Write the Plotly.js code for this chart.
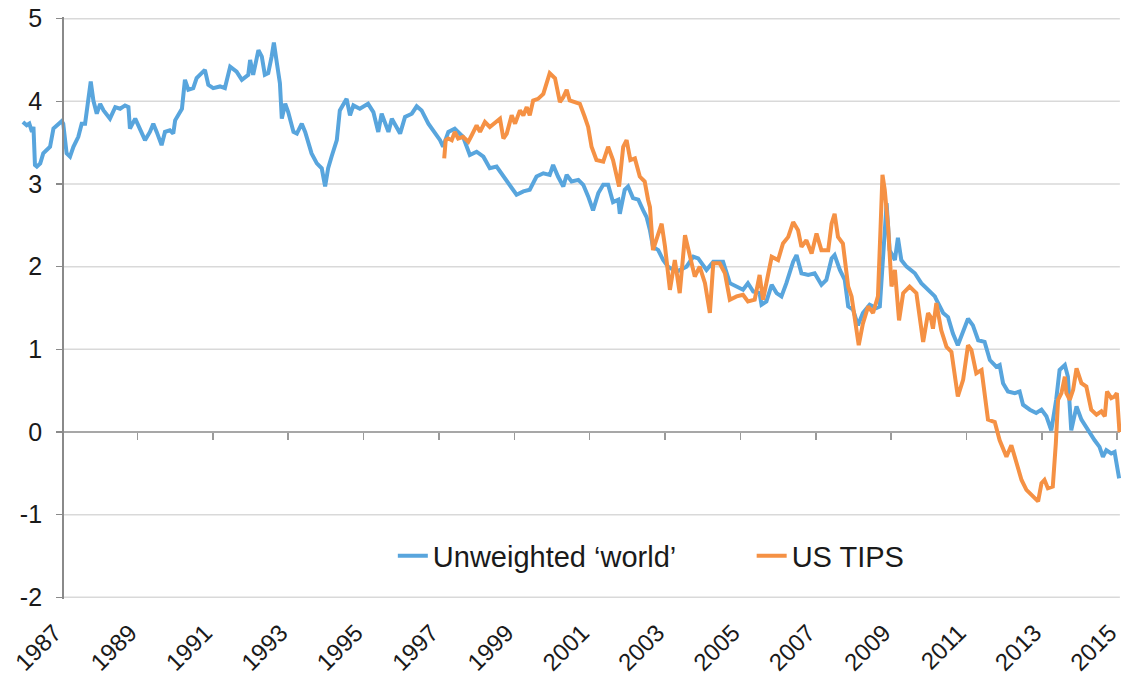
<!DOCTYPE html>
<html>
<head>
<meta charset="utf-8">
<script src="https://cdn.plot.ly/plotly-3.0.1.min.js"></script>
<style>html,body{margin:0;padding:0;background:#fff;}#chart{width:1128px;height:681px;}</style>
</head>
<body>
<div id="chart"></div>
<script>
// Unweighted 'world' real yield (decimal years, %)
const worldYears = [1985.96,1986.06,1986.13,1986.20,1986.24,1986.28,1986.33,1986.42,1986.50,1986.59,1986.68,1986.77,1986.86,1986.99,
1987.03,1987.12,1987.21,1987.30,1987.43,1987.52,1987.61,1987.70,1987.76,1987.83,1987.92,1988.01,1988.10,1988.27,1988.41,1988.54,1988.67,1988.76,1988.80,1988.94,
1989.02,1989.20,1989.33,1989.42,1989.51,1989.64,1989.73,1989.86,1989.95,1990.00,1990.18,1990.26,1990.35,1990.48,1990.57,1990.79,1990.88,
1991.01,1991.19,1991.32,1991.46,1991.63,1991.77,1991.94,1991.99,1992.07,1992.21,1992.30,1992.38,1992.47,1992.56,1992.62,1992.70,1992.78,1992.83,1992.92,
1993.00,1993.14,1993.23,1993.36,1993.45,1993.62,1993.76,1993.89,1993.98,1994.06,1994.15,1994.29,1994.37,1994.55,1994.64,1994.73,1994.90,
1995.12,1995.26,1995.39,1995.48,1995.57,1995.66,1995.75,1995.88,1995.97,1996.10,1996.28,1996.41,1996.54,1996.72,1996.89,
1997.03,1997.11,1997.25,1997.42,1997.64,1997.82,1998.00,1998.18,1998.35,1998.53,1998.71,1998.88,
1999.06,1999.24,1999.41,1999.59,1999.77,1999.94,2000.03,2000.16,2000.30,2000.39,2000.52,2000.70,2000.83,2000.96,
2001.09,2001.23,2001.36,2001.49,2001.62,2001.76,2001.80,2001.93,2002.02,2002.15,2002.29,2002.42,2002.51,2002.60,2002.68,2002.82,2002.95,
2003.08,2003.31,2003.57,2003.75,2003.88,2004.10,2004.28,2004.54,2004.72,2004.90,2005.07,2005.20,2005.34,2005.51,2005.56,2005.69,2005.83,2005.96,
2006.09,2006.22,2006.40,2006.49,2006.62,2006.80,2006.97,2007.15,2007.28,2007.42,2007.50,2007.64,2007.77,2007.86,2007.99,
2008.12,2008.25,2008.43,2008.61,2008.70,2008.80,2008.88,2008.96,2009.10,2009.18,2009.27,2009.41,2009.63,2009.80,2009.98,
2010.16,2010.20,2010.38,2010.51,2010.64,2010.77,2010.91,2011.04,2011.17,2011.31,2011.48,2011.62,2011.79,2011.88,2011.97,
2012.10,2012.28,2012.41,2012.50,2012.68,2012.85,2012.99,2013.12,2013.25,2013.38,2013.47,2013.61,2013.69,2013.78,2013.92,
2014.05,2014.22,2014.40,2014.53,2014.62,2014.71,2014.84,2014.93,2015.05];
const worldValues = [3.75,3.71,3.73,3.63,3.69,3.23,3.21,3.25,3.37,3.41,3.45,3.67,3.71,3.76,
3.73,3.37,3.33,3.45,3.57,3.73,3.73,4.01,4.24,4.01,3.85,3.97,3.89,3.79,3.93,3.91,3.95,3.93,3.67,3.79,
3.71,3.53,3.63,3.73,3.63,3.47,3.63,3.65,3.61,3.77,3.91,4.26,4.14,4.16,4.28,4.38,4.20,
4.16,4.18,4.16,4.42,4.36,4.26,4.32,4.50,4.32,4.62,4.54,4.32,4.34,4.54,4.71,4.46,4.22,3.79,3.97,
3.87,3.63,3.61,3.73,3.63,3.37,3.25,3.19,2.97,3.19,3.33,3.53,3.89,4.03,3.83,3.95,3.91,
3.97,3.87,3.63,3.85,3.73,3.63,3.79,3.69,3.61,3.81,3.85,3.94,3.89,3.73,3.61,
3.53,3.45,3.63,3.67,3.57,3.35,3.39,3.33,3.19,3.21,3.09,2.99,
2.87,2.91,2.93,3.09,3.13,3.11,3.23,3.09,2.97,3.11,3.03,3.05,2.99,2.85,
2.68,2.89,2.99,2.99,2.78,2.81,2.64,2.93,2.97,2.83,2.81,2.68,2.60,2.44,2.24,2.20,2.08,
2.00,1.94,2.00,2.12,2.10,1.96,2.06,2.06,1.80,1.76,1.72,1.80,1.70,1.68,1.54,1.58,1.78,1.68,
1.64,1.80,2.06,2.14,1.92,1.90,1.92,1.78,1.84,2.10,2.14,1.96,1.84,1.52,1.48,
1.29,1.44,1.54,1.50,1.52,2.30,2.77,2.20,2.08,2.35,2.08,2.00,1.92,1.80,1.72,
1.64,1.60,1.44,1.39,1.19,1.05,1.23,1.37,1.29,1.11,1.09,0.87,0.79,0.81,0.59,
0.49,0.47,0.49,0.33,0.27,0.23,0.27,0.19,0.02,0.39,0.75,0.81,0.67,0.02,0.31,
0.15,0.02,-0.10,-0.18,-0.30,-0.22,-0.26,-0.24,-0.56];

// US TIPS real yield (decimal years, %)
const tipsYears = [1997.14,1997.18,1997.25,1997.34,1997.42,1997.51,1997.64,1997.78,1997.87,1998.00,1998.09,1998.22,1998.35,1998.49,1998.62,1998.71,1998.80,1998.93,
1999.02,1999.15,1999.24,1999.33,1999.41,1999.50,1999.63,1999.77,1999.86,1999.94,2000.08,2000.21,2000.30,2000.39,2000.47,2000.65,2000.74,2000.87,2000.96,
2001.05,2001.18,2001.36,2001.49,2001.62,2001.78,2001.89,2001.98,2002.08,2002.20,2002.33,2002.46,2002.55,2002.60,2002.68,2002.82,2002.91,
2003.00,2003.13,2003.26,2003.39,2003.53,2003.66,2003.79,2003.92,2004.06,2004.19,2004.28,2004.45,2004.59,2004.72,2004.90,
2005.07,2005.20,2005.38,2005.51,2005.60,2005.73,2005.83,2006.00,2006.13,2006.27,2006.40,2006.53,2006.62,2006.75,2006.89,
2007.02,2007.15,2007.33,2007.42,2007.50,2007.59,2007.72,2007.86,2007.95,2008.03,2008.14,2008.25,2008.39,2008.52,2008.65,2008.72,2008.77,2008.83,2008.92,
2009.01,2009.10,2009.21,2009.32,2009.49,2009.67,2009.85,2009.98,2010.05,2010.11,2010.20,2010.33,2010.47,2010.60,2010.77,2010.91,
2011.04,2011.13,2011.26,2011.40,2011.57,2011.75,2011.88,2012.06,2012.19,2012.32,2012.46,2012.59,2012.76,2012.90,
2012.99,2013.07,2013.16,2013.29,2013.37,2013.43,2013.52,2013.61,2013.65,2013.74,2013.83,2013.92,
2014.05,2014.18,2014.31,2014.45,2014.58,2014.67,2014.73,2014.84,2014.93,2014.99,2015.06];
const tipsValues = [3.31,3.53,3.55,3.53,3.63,3.55,3.57,3.51,3.59,3.71,3.63,3.75,3.69,3.75,3.79,3.55,3.61,3.83,
3.73,3.89,3.83,3.93,3.83,4.01,4.03,4.09,4.21,4.34,4.28,3.99,4.05,4.14,4.01,3.99,3.97,3.81,3.69,
3.45,3.29,3.27,3.45,3.29,2.97,3.45,3.53,3.29,3.31,3.09,3.03,2.81,2.72,2.20,2.40,2.52,
2.24,1.72,2.08,1.68,2.38,2.12,1.88,2.00,1.80,1.44,2.04,2.04,1.92,1.60,1.64,
1.66,1.58,1.60,1.90,1.60,1.88,2.12,2.08,2.28,2.36,2.54,2.44,2.24,2.32,2.16,
2.40,2.20,2.20,2.52,2.64,2.36,2.28,1.76,1.64,1.39,1.05,1.31,1.52,1.44,1.64,2.48,3.11,2.93,2.48,
1.76,1.96,1.35,1.68,1.76,1.68,1.09,1.44,1.39,1.25,1.56,1.23,1.03,0.97,0.43,0.63,
1.05,0.99,0.71,0.75,0.15,0.12,-0.10,-0.30,-0.16,-0.38,-0.58,-0.70,-0.78,-0.84,
-0.62,-0.58,-0.68,-0.66,-0.14,0.39,0.47,0.67,0.47,0.39,0.51,0.77,
0.59,0.55,0.27,0.21,0.25,0.19,0.49,0.41,0.43,0.47,0.00];

const seriesNames = ["Unweighted \u2018world\u2019", "US TIPS"];
const tickYears = [1987,1989,1991,1993,1995,1997,1999,2001,2003,2005,2007,2009,2011,2013,2015];
const tickLabels = tickYears.map(String);
const zeroTickYears = tickYears.slice(1);
const yTicks = [-2,-1,0,1,2,3,4,5];
const yTickLabels = ["-2","-1","0","1","2","3","4","5"];

const xRange = [1985.75, 2015.1];
const yRange = [-2.02, 5.02];
const labelShift = 0.2;   // slides rotated year labels so their ends sit at the ticks
const axisStart = 1987, axisEnd = 2015.07;
const FONT = "Liberation Sans, Arial, sans-serif";
const TXT = "#1a1a1a";

const shapes = yTicks.filter(v => v !== 0).map(v => ({
  type: "line", xref: "x", yref: "y", x0: axisStart, x1: axisEnd, y0: v, y1: v,
  line: {color: "#d9d9d9", width: 1.5}, layer: "below"
}));
shapes.push({type: "line", xref: "x", yref: "y", x0: axisStart, x1: axisEnd, y0: 0, y1: 0,
  line: {color: "#8a8a8a", width: 1.5}, layer: "below"});

const frac = (v, r) => (v - r[0]) / (r[1] - r[0]);

const traces = [
  {x: worldYears, y: worldValues, type: "scatter", mode: "lines", name: seriesNames[0],
   line: {color: "#58A5DD", width: 4}, legend: "legend"},
  {x: tipsYears, y: tipsValues, type: "scatter", mode: "lines", name: seriesNames[1],
   line: {color: "#F59144", width: 4}, legend: "legend2"},
  {x: [xRange[0]], y: [null], xaxis: "x2", yaxis: "y", type: "scatter", mode: "lines",
   showlegend: false, hoverinfo: "skip"}
];

const legendBase = {orientation: "h", xanchor: "left", y: frac(-1.5, yRange), yanchor: "middle",
  bgcolor: "rgba(0,0,0,0)", font: {size: 29, color: TXT, family: FONT}};

const layout = {
  width: 1128, height: 681,
  margin: {l: 15, r: 6.5, t: 17, b: 82, pad: 0},
  paper_bgcolor: "#fff", plot_bgcolor: "rgba(0,0,0,0)",
  font: {family: FONT, color: TXT},
  showlegend: true,
  xaxis: {range: xRange, anchor: "free", position: frac(0, yRange),
    tickvals: zeroTickYears, ticks: "outside", ticklen: 7, tickwidth: 1.5, tickcolor: "#9a9a9a",
    showticklabels: false, showgrid: false, zeroline: false, showline: false, fixedrange: true},
  xaxis2: {range: [xRange[0] + labelShift, xRange[1] + labelShift], overlaying: "x", anchor: "y", side: "bottom",
    tickvals: tickYears, ticktext: tickLabels, tickangle: -45, ticks: "",
    showgrid: false, zeroline: false, showline: false, ticklabelstandoff: 14, ticklabeloverflow: "allow",
    tickfont: {size: 24, color: TXT, family: FONT}},
  yaxis: {range: yRange, anchor: "free", position: frac(axisStart, xRange),
    tickvals: yTicks, ticktext: yTickLabels, ticks: "outside", ticklen: 6, tickwidth: 1.5, tickcolor: "#8a8a8a",
    showline: true, linecolor: "#8a8a8a", linewidth: 1.5, showgrid: false, zeroline: false,
    ticklabelstandoff: 9, tickfont: {size: 25, color: TXT, family: FONT}},
  legend: Object.assign({}, legendBase, {x: (393 - 15) / 1106.5}),
  legend2: Object.assign({}, legendBase, {x: (752 - 15) / 1106.5}),
  shapes: shapes
};

Plotly.newPlot("chart", traces, layout, {displayModeBar: false, staticPlot: true});
</script>
</body>
</html>
